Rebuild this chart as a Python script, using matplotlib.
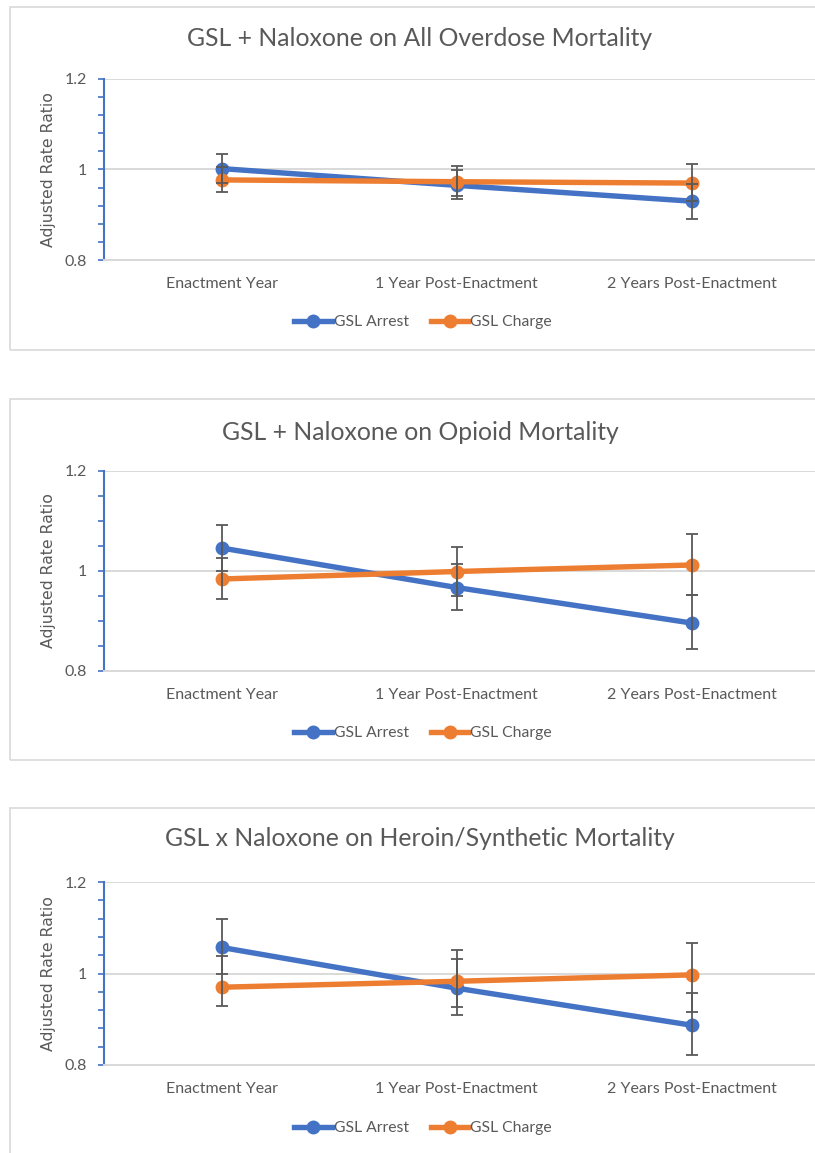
import matplotlib
matplotlib.use('Agg')
import matplotlib.pyplot as plt
from matplotlib import font_manager
from matplotlib.lines import Line2D
from matplotlib.patches import Rectangle
from matplotlib.ticker import MultipleLocator
import numpy as np

# Data (adjusted rate ratios with 95% CI)
categories = ['Enactment Year', '1 Year Post-Enactment', '2 Years Post-Enactment']
titles = ['GSL + Naloxone on All Overdose Mortality',
          'GSL + Naloxone on Opioid Mortality',
          'GSL x Naloxone on Heroin/Synthetic Mortality']
series_names = ['GSL Arrest', 'GSL Charge']

arrest_all = [1.002, 0.965, 0.930]
arrest_all_lo = [0.970, 0.934, 0.891]
arrest_all_hi = [1.034, 0.999, 0.968]
charge_all = [0.977, 0.973, 0.970]
charge_all_lo = [0.950, 0.941, 0.930]
charge_all_hi = [1.005, 1.007, 1.012]

arrest_opioid = [1.046, 0.967, 0.896]
arrest_opioid_lo = [1.000, 0.923, 0.845]
arrest_opioid_hi = [1.092, 1.015, 0.952]
charge_opioid = [0.984, 0.999, 1.012]
charge_opioid_lo = [0.944, 0.950, 0.953]
charge_opioid_hi = [1.026, 1.048, 1.075]

arrest_heroin = [1.057, 0.968, 0.887]
arrest_heroin_lo = [0.999, 0.909, 0.822]
arrest_heroin_hi = [1.120, 1.032, 0.958]
charge_heroin = [0.970, 0.983, 0.997]
charge_heroin_lo = [0.930, 0.926, 0.915]
charge_heroin_hi = [1.039, 1.051, 1.067]

panels = [
    (arrest_all, arrest_all_lo, arrest_all_hi, charge_all, charge_all_lo, charge_all_hi),
    (arrest_opioid, arrest_opioid_lo, arrest_opioid_hi, charge_opioid, charge_opioid_lo, charge_opioid_hi),
    (arrest_heroin, arrest_heroin_lo, arrest_heroin_hi, charge_heroin, charge_heroin_lo, charge_heroin_hi),
]
minor_steps = [0.04, 0.05, 0.04]

BLUE = '#4472C4'
ORANGE = '#ED7D31'
GREY = '#595959'
GRID = '#D9D9D9'

# Calibri-like narrow font if available
names = {f.name for f in font_manager.fontManager.ttflist}
narrow = 'Liberation Sans Narrow' if 'Liberation Sans Narrow' in names else 'Lato'

W, H = 815, 1153
fig = plt.figure(figsize=(W / 100, H / 100), dpi=100)


def px(left, top, right, bottom):
    return [left / W, 1 - bottom / H, (right - left) / W, (bottom - top) / H]


# pixel layout per panel: box top/bottom, title y, plot top/bottom, legend y
layout = [
    (7, 350, 39, 79, 260, 322),
    (399, 760, 432, 471, 671, 733),
    (808, 1175, 838, 882, 1065, 1128),
]

for i, (box_t, box_b, title_y, top, bottom, leg_y) in enumerate(layout):
    fig.patches.append(Rectangle((10 / W, 1 - box_b / H), (830 - 10) / W, (box_b - box_t) / H,
                                 transform=fig.transFigure, facecolor='none',
                                 edgecolor=GRID, lw=1.2, zorder=-1))
    ax = fig.add_axes(px(104, top, 815, bottom))
    ax.set_facecolor('none')
    a, a_lo, a_hi, c, c_lo, c_hi = [np.array(v) for v in panels[i]]
    x = np.arange(len(categories))

    ax.plot(x, a, color=BLUE, lw=3.9, marker='o', ms=9, zorder=3, label=series_names[0])
    ax.plot(x, c, color=ORANGE, lw=3.9, marker='o', ms=9, zorder=3, label=series_names[1])
    ax.errorbar(x, a, yerr=[a - a_lo, a_hi - a], fmt='none', ecolor=GREY,
                elinewidth=1.3, capsize=4, capthick=1.3, zorder=4)
    ax.errorbar(x, c, yerr=[c - c_lo, c_hi - c], fmt='none', ecolor=GREY,
                elinewidth=1.3, capsize=4, capthick=1.3, zorder=4)

    ax.set_ylim(0.8, 1.2)
    ax.set_xlim(-0.5, 2.5 + 6 / 235)
    ax.set_yticks([0.8, 1.0, 1.2])
    ax.set_yticklabels(['0.8', '1', '1.2'])
    ax.yaxis.set_minor_locator(MultipleLocator(minor_steps[i]))
    ax.set_xticks(x)
    ax.set_xticklabels(categories)
    ax.grid(axis='y', which='major', color=GRID, lw=1.4)
    ax.set_axisbelow(True)
    for s in ['top', 'right']:
        ax.spines[s].set_visible(False)
    ax.spines['bottom'].set_color(GRID)
    ax.spines['bottom'].set_linewidth(1.4)
    ax.spines['left'].set_color(BLUE)
    ax.spines['left'].set_linewidth(1.5)
    ax.tick_params(axis='x', length=0, pad=12.5, labelsize=11.5, labelcolor=GREY)
    ax.tick_params(axis='y', which='both', direction='out', color=BLUE, width=1.2,
                   labelsize=11.5, labelcolor=GREY, pad=8)
    ax.tick_params(axis='y', which='major', length=4)
    ax.tick_params(axis='y', which='minor', length=4)
    for lab in ax.get_xticklabels() + ax.get_yticklabels():
        lab.set_family(narrow)

    fig.text(49 / W, 1 - (top + bottom) / 2 / H, 'Adjusted Rate Ratio', rotation=90,
             ha='center', va='center', fontsize=11.3, color=GREY, family='DejaVu Sans')
    fig.text(420 / W, 1 - title_y / H, titles[i], ha='center', va='center',
             fontsize=17.8, color=GREY, family=narrow)

    handles = [Line2D([], [], color=BLUE, lw=3.9, marker='o', ms=9),
               Line2D([], [], color=ORANGE, lw=3.9, marker='o', ms=9)]
    fig.legend(handles, series_names, loc='center', bbox_to_anchor=(423 / W, 1 - leg_y / H),
               ncol=2, frameon=False, handlelength=2.4, handletextpad=0.1,
               columnspacing=1.4, prop={'family': narrow, 'size': 11.3},
               labelcolor=GREY)

fig.savefig('out.png', dpi=100)
